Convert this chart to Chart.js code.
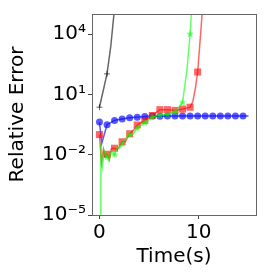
<!DOCTYPE html>
<html><head><meta charset="utf-8">
<script src="https://cdn.jsdelivr.net/npm/chart.js@4/dist/chart.umd.min.js"></script>
<style>html,body{margin:0;padding:0;background:#fff;overflow:hidden}#wrap{width:266px;height:279px;position:relative}</style>
</head><body><div id="wrap"><canvas id="c"></canvas></div>
<script>
// ---- data ----
const xTickValues = [0, 10];
const yTickValues = [1e-5, 1e-2, 1e1, 1e4];
const yTickLabels = ['10\u207B\u2075', '10\u207B\u00B2', '10\u00B9', '10\u2074'];
const xLabel = 'Time(s)';
const yLabel = 'Relative Error';

const blackT = [0, 0.76, 1.14, 1.52];
const blackV = [2.3, 105, 2500, 2e5];

const blueT = [0, 0.23, 0.76, 1.52, 2.28, 3.04, 3.8, 4.56, 5.32, 6.08, 6.84, 7.6, 8.36, 9.12, 9.88, 10.64, 11.4, 12.16, 12.92, 13.68, 14.44, 15];
const blueV = [0.42, 0.036, 0.31, 0.51, 0.60, 0.68, 0.74, 0.79, 0.85, 0.83, 0.85, 0.85, 0.85, 0.85, 0.85, 0.85, 0.85, 0.85, 0.85, 0.85, 0.85, 0.85];

const redT = [0, 0.2, 0.4, 0.55, 0.76, 1.0, 1.2, 1.52, 1.8, 2.28, 2.6, 3.04, 3.4, 3.8, 4.56, 5.32, 6.08, 6.84, 7.6, 8.36, 9.12, 9.4, 9.65, 9.88, 10.1, 10.4];
const redV = [0.1, 0.004, 0.018, 0.008, 0.0105, 0.0056, 0.02, 0.021, 0.018, 0.044, 0.045, 0.11, 0.16, 0.3, 0.51, 0.89, 1.74, 1.74, 1.6, 1.86, 2.3, 4.5, 20, 130, 3200, 3e5];

const greenT = [0.1, 0.12, 0.15, 0.3, 0.5, 0.76, 0.95, 1.2, 1.52, 1.8, 2.0, 2.28, 2.6, 3.04, 3.4, 3.8, 4.56, 5.32, 6.08, 6.84, 7.6, 8.36, 8.8, 9.12, 9.3];
const greenV = [1e-6, 1e-6, 0.04, 0.0028, 0.015, 0.008, 0.005, 0.016, 0.01, 0.025, 0.02, 0.035, 0.063, 0.1, 0.11, 0.21, 0.39, 0.74, 0.93, 1.02, 1.29, 4.0, 160, 10000, 3e5];

// ---- styling ----
const MARK_STEP = 0.76;
function isMark(t){ const k = t / MARK_STEP; return Math.abs(k - Math.round(k)) < 0.02; }
function pts(ts, vs){ return ts.map((t, i) => ({x: t, y: vs[i]})); }
function starImg(color, r){
  const s = Math.ceil(r * 2 + 2);
  const c = document.createElement('canvas'); c.width = c.height = s;
  const g = c.getContext('2d'); g.fillStyle = color; g.beginPath();
  for (let i = 0; i < 10; i++) {
    const a = -Math.PI / 2 + i * Math.PI / 5; const rr = i % 2 ? r * 0.42 : r;
    g.lineTo(s / 2 + rr * Math.cos(a), s / 2 + rr * Math.sin(a));
  }
  g.closePath(); g.fill(); return c;
}
const FONT = 'DejaVu Sans';
const BLUE = 'rgba(0,0,255,0.65)', RED = 'rgba(255,0,0,0.6)', GREEN = 'rgba(0,255,0,0.6)', BLACK = 'rgba(0,0,0,0.6)';
const star = starImg(GREEN, 4);

function ds(label, ts, vs, color, style, r, order){
  return {
    label, data: pts(ts, vs), borderColor: color, backgroundColor: color,
    borderWidth: 1.5, pointStyle: style, pointBorderWidth: style === 'cross' ? 1 : 0,
    pointBorderColor: color, pointBackgroundColor: color,
    pointRadius: c => isMark(c.raw.x) ? r : 0, pointHoverRadius: 0,
    tension: 0, clip: 0, order
  };
}

const frame = {
  id: 'frame',
  afterDatasetsDraw(chart){
    const {ctx, chartArea: a} = chart;
    ctx.save(); ctx.strokeStyle = '#666'; ctx.lineWidth = 1;
    ctx.strokeRect(Math.floor(a.left) + 0.5, Math.floor(a.top) + 0.5, Math.floor(a.right) - Math.floor(a.left), Math.floor(a.bottom) - Math.floor(a.top));
    ctx.restore();
  }
};

new Chart(document.getElementById('c'), {
  type: 'line',
  data: { datasets: [
    ds('green', greenT, greenV, GREEN, star, 4, 1),
    ds('red', redT, redV, RED, 'rect', 5, 2),
    ds('blue', blueT, blueV, BLUE, 'circle', 3.5, 3),
    ds('black', blackT, blackV, BLACK, 'cross', 3, 4)
  ]},
  options: {
    responsive: true, maintainAspectRatio: false, animation: false,
    layout: { padding: { left: 0, right: 10, top: 9, bottom: 0 } },
    plugins: { legend: { display: false }, tooltip: { enabled: false } },
    events: [],
    scales: {
      x: {
        type: 'linear', min: -0.75, max: 15.75,
        afterBuildTicks: s => { s.ticks = xTickValues.map(v => ({value: v})); },
        afterFit: s => { s.height = 64; },
        grid: { drawOnChartArea: false, drawTicks: true, tickLength: 4, tickColor: '#444' },
        border: { display: false },
        ticks: { autoSkip: false, maxRotation: 0, padding: 2, color: '#000', font: { family: FONT, size: 20 } },
        title: { display: true, text: xLabel, color: '#000', font: { family: FONT, size: 20 }, padding: { top: 0, bottom: 10 } }
      },
      y: {
        type: 'logarithmic', min: 1e-5, max: 1e5,
        afterBuildTicks: s => { s.ticks = yTickValues.map(v => ({value: v})); },
        afterFit: s => { s.width = 92; },
        grid: { drawOnChartArea: false, drawTicks: true, tickLength: 4, tickColor: '#444' },
        border: { display: false },
        ticks: { autoSkip: false, padding: 2, color: '#000', font: { family: FONT, size: 20 },
          callback: v => { const i = yTickValues.indexOf(v); return i >= 0 ? yTickLabels[i] : ''; } },
        title: { display: true, text: yLabel, color: '#000', font: { family: FONT, size: 20 }, padding: { top: 6, bottom: 0 } }
      }
    }
  },
  plugins: [frame]
});
</script></body></html>
